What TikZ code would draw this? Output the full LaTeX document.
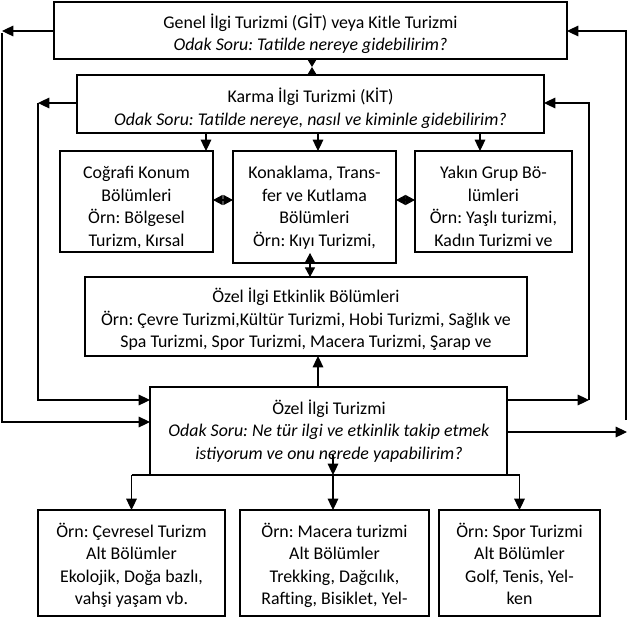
\documentclass[tikz,border=0pt]{standalone}
\usepackage{fontspec}
\setmainfont{Carlito}
\usetikzlibrary{arrows.meta}
\newcommand{\bxl}[1]{\begin{tabular}[t]{@{}c@{}}#1\end{tabular}}
\begin{document}
\frenchspacing
\begin{tikzpicture}[x=0.75pt,y=-0.75pt,
  box/.style={draw,line width=0.9pt,inner sep=0pt,outer sep=0pt},
  txt/.style={inner sep=0pt,outer sep=0pt,anchor=base,font=\fontsize{13.4}{16.875}\selectfont},
  arr/.style={line width=0.8pt,-{Triangle[length=8.5pt,width=8pt]}},
  dbl/.style={line width=0.8pt,{Triangle[length=7.2pt,width=7.5pt]}-{Triangle[length=7.2pt,width=7.5pt]}},
  sarr/.style={line width=0.8pt,-{Triangle[length=6pt,width=7pt]}},
  ln/.style={line width=0.8pt}]
\useasboundingbox (0,0) rectangle (629,622);
\fill[white] (0,0) rectangle (629,622);
% boxes
\node[box,minimum width=384.75pt,minimum height=42.75pt] (git) at (310.5,30.5) {};
\node[box,minimum width=350.25pt,minimum height=43.5pt] (karma) at (310.5,104) {};
\node[box,minimum width=114.75pt,minimum height=75.75pt] (cog) at (136.5,201.5) {};
\node[box,minimum width=122.25pt,minimum height=84pt] (kon) at (314.5,207) {};
\node[box,minimum width=117.75pt,minimum height=75.75pt] (yak) at (493.5,201.5) {};
\node[box,minimum width=331.5pt,minimum height=59.25pt] (etk) at (306,316.5) {};
\node[box,minimum width=267.75pt,minimum height=66pt] (ozel) at (328.5,431) {};
\node[box,minimum width=140.25pt,minimum height=79.5pt] (b1) at (131.5,563) {};
\node[box,minimum width=141.75pt,minimum height=79.5pt] (b2) at (334.5,563) {};
\node[box,minimum width=120.75pt,minimum height=79.5pt] (b3) at (519.5,563) {};
% texts
\node[txt] (tgit) at (310.5,28) {\bxl{Genel İlgi Turizmi (GİT) veya Kitle Turizmi\\ \textit{Odak Soru: Tatilde nereye gidebilirim?}}};
\node[txt] (tkarma) at (310.5,102.5) {\bxl{Karma İlgi Turizmi (KİT)\\ \textit{Odak Soru: Tatilde nereye, nasıl ve kiminle gidebilirim?}}};
\begin{scope}
\clip (cog.north west) rectangle (213,247);
\node[txt] (tcog) at (136.5,178.5) {\bxl{Coğrafi Konum\\ Bölümleri\\ Örn: Bölgesel\\ Turizm, Kırsal}};
\end{scope}
\node[txt] (tkon) at (314.5,178.5) {\bxl{Konaklama, Trans-\\ fer ve Kutlama\\ Bölümleri\\ Örn: Kıyı Turizmi,}};
\begin{scope}
\clip (yak.north west) rectangle (572,249);
\node[txt] (tyak) at (493.5,178.5) {\bxl{Yakın Grup Bö-\\ lümleri\\ Örn: Yaşlı turizmi,\\ Kadın Turizmi ve}};
\end{scope}
\begin{scope}
\clip (etk.north west) rectangle (527,350);
\node[txt] (tetk) at (306,302.5) {\bxl{Özel İlgi Etkinlik Bölümleri\\ Örn: Çevre Turizmi,Kültür Turizmi, Hobi Turizmi, Sağlık ve\\ Spa Turizmi, Spor Turizmi, Macera Turizmi, Şarap ve}};
\end{scope}
\node[txt] (tozel) at (329,414) {\bxl{Özel İlgi Turizmi\\ \textit{Odak Soru: Ne tür ilgi ve etkinlik takip etmek}\\ \textit{istiyorum ve onu nerede yapabilirim?}}};
\node[txt] (tb1) at (131.5,537) {\bxl{Örn: Çevresel Turizm\\ Alt Bölümler\\ Ekolojik, Doğa bazlı,\\ vahşi yaşam vb.}};
\node[txt] (tb2) at (334.5,537) {\bxl{Örn: Macera turizmi\\ Alt Bölümler\\ Trekking, Dağcılık,\\ Rafting, Bisiklet, Yel-}};
\node[txt] (tb3) at (519.5,537) {\bxl{Örn: Spor Turizmi\\ Alt Bölümler\\ Golf, Tenis, Yel-\\ ken}};
% coordinates
\coordinate (lo1) at (2,31);
\coordinate (lo2) at (3,422);
\coordinate (ro1) at (626,31);
\coordinate (ro2) at (626,420);
\coordinate (ro3) at (627,432);
\coordinate (li1) at (38,103);
\coordinate (li2) at (38,400);
\coordinate (ri1) at (589,103);
\coordinate (ri2) at (589,400);
\coordinate (k1) at (206,0);
\coordinate (k2) at (318,0);
\coordinate (k3) at (480,0);
\coordinate (ydia) at (0,200);
\coordinate (hg) at (312,67);
\coordinate (kx) at (310,253);
\coordinate (ox) at (318,0);
\coordinate (od) at (333,455);
% outer left
\draw[arr] (git.west |- lo1) -- (lo1);
\draw[arr] (lo1 |- 0,33) -- (lo1 |- lo2) -- (ozel.west |- lo2);
% outer right
\draw[arr] (ozel.east |- ro3) -- (ro3);
\draw[arr] (ro2) -- (ro1) -- (git.east |- ro1);
% inner left
\draw[arr] (karma.west |- li1) -- (li1);
\draw[arr] (li1) -- (li2) -- (ozel.west |- li2);
% inner right
\draw[arr] (ozel.east |- ri2) -- (ri2);
\draw[arr] (ri2) -- (ri1) -- (karma.east |- ri1);
% git - karma hourglass
\draw[sarr] (git.south -| hg) -- (hg);
\draw[sarr] (karma.north -| hg) -- (hg);
% karma to small boxes
\draw[arr] (karma.south -| k1) -- (cog.north -| k1);
\draw[arr] (karma.south -| k2) -- (kon.north -| k2);
\draw[arr] (karma.south -| k3) -- (yak.north -| k3);
% diamonds
\draw[dbl] (cog.east |- ydia) -- (kon.west |- ydia);
\draw[dbl] (kon.east |- ydia) -- (yak.west |- ydia);
% kon - etk
\draw[dbl] (kx) -- (etk.north -| kx);
% ozel - etk
\draw[arr] (ozel.north -| ox) -- (etk.south -| ox);
% ozel down
\draw[arr] (od) -- (ozel.south -| od);
\draw[ln] (b1.north |- ozel.south) -- (b3.north |- ozel.south);
\draw[arr] (b1.north |- ozel.south) -- (b1.north);
\draw[arr] (ozel.south -| od) -- (b2.north -| od);
\draw[arr] (b3.north |- ozel.south) -- (b3.north);
\end{tikzpicture}
\end{document}
